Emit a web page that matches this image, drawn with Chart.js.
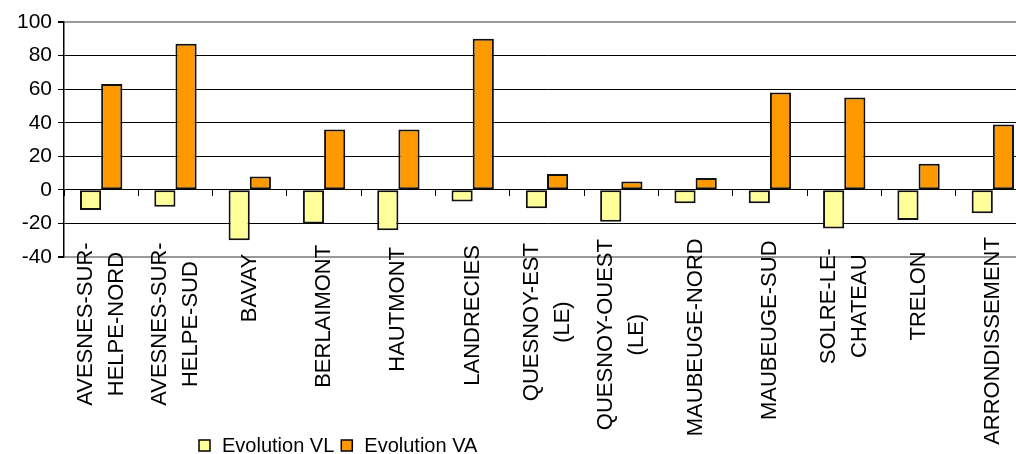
<!DOCTYPE html>
<html>
<head>
<meta charset="utf-8">
<script src="https://cdn.jsdelivr.net/npm/chart.js@4.4.1/dist/chart.umd.min.js"></script>
<style>
  html, body { margin: 0; padding: 0; background: #fff; overflow: hidden; }
  #wrap { position: relative; width: 1040px; height: 454px; }
</style>
</head>
<body>
<div id="wrap"><canvas id="chart"></canvas></div>
<script>
const categories = [
  ['AVESNES-SUR-', 'HELPE-NORD'],
  ['AVESNES-SUR-', 'HELPE-SUD'],
  ['BAVAY'],
  ['BERLAIMONT'],
  ['HAUTMONT'],
  ['LANDRECIES'],
  ['QUESNOY-EST', '(LE)'],
  ['QUESNOY-OUEST', '(LE)'],
  ['MAUBEUGE-NORD'],
  ['MAUBEUGE-SUD'],
  ['SOLRE-LE-', 'CHATEAU'],
  ['TRELON'],
  ['ARRONDISSEMENT']
];
const evolutionVL = [-12, -10, -30, -20, -24, -7, -11, -19, -8, -8, -23, -18, -14];
const evolutionVA = [63, 87, 8, 36, 36, 90, 9.5, 5, 7, 58, 55, 15.5, 39];
const yTicks = { min: -40, max: 100, step: 20 };

const labelFont = '"Liberation Sans", Arial, sans-serif';

// category labels, drawn rotated with lines centred on the first one
const xLabels = {
  id: 'xLabels',
  afterDraw(chart) {
    const { ctx, chartArea } = chart;
    const x = chart.scales.x;
    ctx.save();
    ctx.font = '22px ' + labelFont;
    ctx.fillStyle = '#000';
    ctx.textAlign = 'center';
    ctx.textBaseline = 'middle';
    categories.forEach((lines, i) => {
      const cx = x.getPixelForTick(i);
      const w = ctx.measureText(lines[0]).width;
      // longer labels sit a little higher, as in the original layout
      const mid = chartArea.bottom + 5 + w * 0.38;
      lines.forEach((line, j) => {
        const lx = cx + (j - (lines.length - 1) / 2) * 31;
        ctx.save();
        ctx.translate(lx, mid);
        ctx.rotate(-Math.PI / 2);
        ctx.fillText(line, 0, 0);
        ctx.restore();
      });
    });
    ctx.restore();
  }
};

// legend below the labels
const bottomLegend = {
  id: 'bottomLegend',
  afterDraw(chart) {
    const ctx = chart.ctx;
    let x = 199;
    const y = 440;
    ctx.save();
    ctx.font = '20px ' + labelFont;
    ctx.textBaseline = 'alphabetic';
    ctx.textAlign = 'left';
    chart.data.datasets.forEach(ds => {
      ctx.fillStyle = ds.backgroundColor;
      ctx.fillRect(x, y, 11, 11);
      ctx.strokeStyle = '#000';
      ctx.lineWidth = 1.5;
      ctx.strokeRect(x, y, 11, 11);
      ctx.fillStyle = '#000';
      ctx.fillText(ds.label, x + 23, y + 12);
      x += 23 + ctx.measureText(ds.label).width + 7;
    });
    ctx.restore();
  }
};

const isEdge = v => v === yTicks.min || v === yTicks.max;

new Chart(document.getElementById('chart'), {
  type: 'bar',
  data: {
    labels: categories,
    datasets: [
      {
        label: 'Evolution VL',
        data: evolutionVL,
        backgroundColor: '#FFFF99',
        borderColor: '#111',
        borderWidth: 2,
        borderSkipped: false
      },
      {
        label: 'Evolution VA',
        data: evolutionVA,
        backgroundColor: '#FF9900',
        borderColor: '#111',
        borderWidth: 2,
        borderSkipped: false
      }
    ]
  },
  options: {
    responsive: true,
    maintainAspectRatio: false,
    animation: false,
    layout: { padding: { top: 22, right: 10, left: 0, bottom: 0 } },
    datasets: { bar: { categoryPercentage: 0.57, barPercentage: 1 } },
    plugins: {
      legend: { display: false },
      tooltip: { enabled: false }
    },
    scales: {
      x: {
        type: 'category',
        offset: true,
        grid: { display: false },
        border: { display: false },
        ticks: { display: false },
        afterFit(scale) {
          scale.height = 197;
          scale.paddingLeft = 0;
          scale.paddingRight = 0;
        }
      },
      x2: {
        type: 'category',
        position: { y: 0 },
        offset: true,
        grid: {
          offset: true,
          drawOnChartArea: false,
          drawTicks: true,
          tickLength: 6,
          color: '#000',
          lineWidth: 1
        },
        border: { display: false },
        ticks: { display: false }
      },
      y: {
        min: yTicks.min,
        max: yTicks.max,
        ticks: {
          stepSize: yTicks.step,
          color: '#000',
          padding: 6,
          font: { family: labelFont, size: 21 }
        },
        grid: {
          color: ctx => isEdge(ctx.tick.value) ? '#999' : '#000',
          lineWidth: ctx => isEdge(ctx.tick.value) ? 2 : 1,
          tickColor: '#000',
          tickLength: 6
        },
        border: { display: true, color: '#000', width: 1.5 },
        afterFit(scale) {
          scale.width = 64;
          scale.paddingTop = 0;
          scale.paddingBottom = 0;
        }
      }
    }
  },
  plugins: [xLabels, bottomLegend]
});
</script>
</body>
</html>
